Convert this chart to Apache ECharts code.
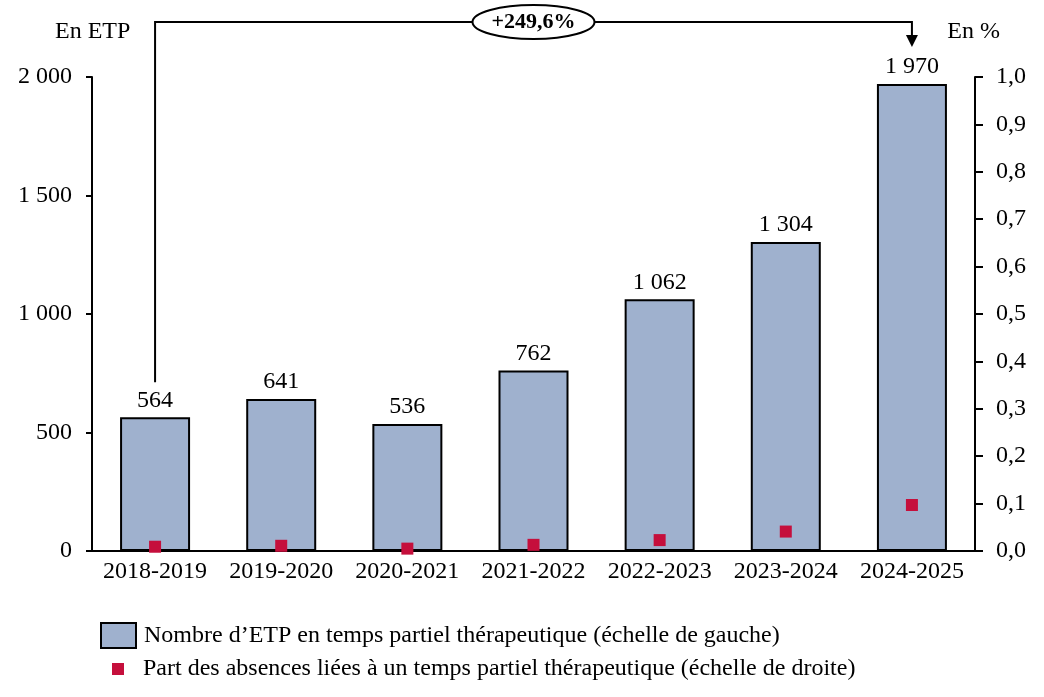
<!DOCTYPE html>
<html>
<head>
<meta charset="utf-8">
<script src="https://cdn.jsdelivr.net/npm/echarts@6/dist/echarts.min.js"></script>
<style>
html,body{margin:0;padding:0;background:#fff;}
#c{width:1044px;height:697px;}
</style>
</head>
<body>
<div id="c"></div>
<script>
var categories = ['2018-2019','2019-2020','2020-2021','2021-2022','2022-2023','2023-2024','2024-2025'];
var etpValues = [564, 641, 536, 762, 1062, 1304, 1970];
var shareValues = [0.009, 0.011, 0.005, 0.013, 0.023, 0.041, 0.097];
var barName = 'Nombre d\u2019ETP en temps partiel thérapeutique (échelle de gauche)';
var dotName = 'Part des absences liées à un temps partiel thérapeutique (échelle de droite)';
var growthLabel = '+249,6%';
var leftUnit = 'En ETP';
var rightUnit = 'En %';

var FONT = '"Liberation Serif", "DejaVu Serif", serif';
var FS = 24;
function thousands(v){ return String(v).replace(/\B(?=(\d{3})+(?!\d))/g, ' '); }

var chart = echarts.init(document.getElementById('c'), null, {renderer:'canvas'});
var option = {
  animation: false,
  backgroundColor: '#fff',
  textStyle: {fontFamily: FONT},
  grid: {left: 92, right: 69, top: 77, bottom: 146, containLabel: false},
  legend: [
    {left: 100, top: 622, padding: 0, orient: 'vertical', itemWidth: 35, itemHeight: 25, itemGap: 8,
     textStyle: {fontFamily: FONT, fontSize: FS, color: '#000', padding: [0, 0, 0, 3]},
     data: [{name: barName, icon: 'rect'}], selectedMode: false},
    {left: 112, top: 657, padding: 0, orient: 'vertical', itemWidth: 12, itemHeight: 12, itemGap: 19,
     textStyle: {fontFamily: FONT, fontSize: FS, color: '#000', padding: [0, 0, 0, 14]},
     data: [{name: dotName, icon: 'rect'}], selectedMode: false}
  ],
  xAxis: {
    type: 'category', data: categories,
    axisLine: {lineStyle: {color: '#000', width: 2}},
    axisTick: {show: false},
    axisLabel: {color: '#000', fontFamily: FONT, fontSize: FS, margin: 9, interval: 0},
    splitLine: {show: false}
  },
  yAxis: [
    {type: 'value', min: 0, max: 2000, interval: 500,
     axisLine: {show: true, lineStyle: {color: '#000', width: 2}},
     axisTick: {show: true, length: 6, lineStyle: {color: '#000', width: 2}},
     axisLabel: {color: '#000', fontFamily: FONT, fontSize: FS, margin: 20, formatter: function(v){return thousands(v);}},
     splitLine: {show: false}},
    {type: 'value', min: 0, max: 1, interval: 0.1, position: 'right',
     axisLine: {show: true, lineStyle: {color: '#000', width: 2}},
     axisTick: {show: true, length: 8, lineStyle: {color: '#000', width: 2}},
     axisLabel: {color: '#000', fontFamily: FONT, fontSize: FS, margin: 21, formatter: function(v){return v.toFixed(1).replace('.', ',');}},
     splitLine: {show: false}}
  ],
  series: [
    {name: barName, type: 'bar', data: etpValues, yAxisIndex: 0, barWidth: 70,
     itemStyle: {color: '#9FB1CE', borderColor: '#000', borderWidth: 2},
     label: {show: true, position: 'top', distance: 5, color: '#000', fontFamily: FONT, fontSize: FS,
             formatter: function(p){return thousands(p.value);}}},
    {name: dotName, type: 'scatter', data: shareValues, yAxisIndex: 1, symbol: 'rect', symbolSize: 12,
     itemStyle: {color: '#C50F3C', opacity: 1}, z: 5}
  ]
};
chart.setOption(option);

var first = chart.convertToPixel({xAxisIndex: 0, yAxisIndex: 0}, [0, etpValues[0]]);
var lastI = etpValues.length - 1;
var last = chart.convertToPixel({xAxisIndex: 0, yAxisIndex: 0}, [lastI, etpValues[lastI]]);
var topY = 22;
var x0 = first[0], x1 = last[0];
var bottomLeft = first[1] - 35;
var arrowTip = last[1] - 37;
var cx = (x0 + x1) / 2;
chart.setOption({
  graphic: [
    {type: 'polyline', shape: {points: [[x0, bottomLeft], [x0, topY], [x1, topY], [x1, arrowTip - 10]]},
     style: {stroke: '#000', lineWidth: 2, fill: null}, z: 10},
    {type: 'polygon', shape: {points: [[x1 - 6, arrowTip - 12], [x1 + 6, arrowTip - 12], [x1, arrowTip]]},
     style: {fill: '#000'}, z: 10},
    {type: 'ellipse', shape: {cx: cx, cy: topY, rx: 61, ry: 17},
     style: {fill: '#fff', stroke: '#000', lineWidth: 2}, z: 11},
    {type: 'text', x: cx, y: topY, style: {text: growthLabel, fontFamily: FONT, fontSize: 22, fontWeight: 'bold',
     fill: '#000', align: 'center', verticalAlign: 'middle'}, z: 12},
    {type: 'text', x: 55, y: 32, style: {text: leftUnit, fontFamily: FONT, fontSize: FS, fill: '#000',
     align: 'left', verticalAlign: 'middle'}},
    {type: 'text', x: 1000, y: 32, style: {text: rightUnit, fontFamily: FONT, fontSize: FS, fill: '#000',
     align: 'right', verticalAlign: 'middle'}}
  ]
});
</script>
</body>
</html>
